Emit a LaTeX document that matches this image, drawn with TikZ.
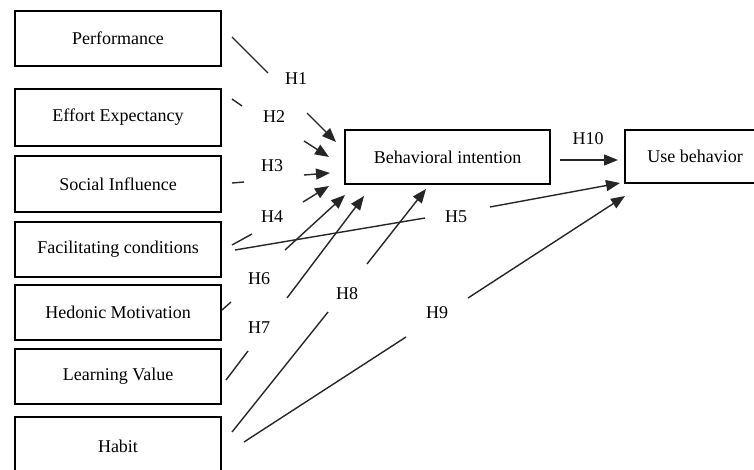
\documentclass[tikz,border=0pt]{standalone}
\usepackage{fontspec}
\setmainfont{Liberation Serif}
\usetikzlibrary{arrows.meta}
\begin{document}
\begin{tikzpicture}[x=1pt,y=-1pt,
  box/.style={draw,line width=2.2pt,minimum width=206pt,inner sep=0pt,font=\fontsize{18}{21}\selectfont},
  hlab/.style={font=\fontsize{18}{21}\selectfont,inner sep=0pt},
  link/.style={line width=1.4pt,draw=black!85},
  arr/.style={line width=1.4pt,draw=black!85,-{Triangle[length=14pt,width=11pt]}}]
\useasboundingbox (0,0) rectangle (754,470);
% boxes
\node[box,minimum height=55pt] (perf)  at (118,38.5)  {Performance};
\node[box,minimum height=57pt] (eff)   at (118,117.5) {Effort Expectancy};
\node[box,minimum height=56pt] (soc)   at (118,184)   {Social Influence};
\node[box,minimum height=55pt] (fac)   at (118,249.5) {Facilitating conditions};
\node[box,minimum height=55pt] (hed)   at (118,312.5) {Hedonic Motivation};
\node[box,minimum height=55pt] (learn) at (118,376.5) {Learning Value};
\node[box,minimum height=58pt] (habit) at (118,446)   {Habit};
\node[box,minimum width=205pt,minimum height=54pt] (bi) at (447.5,157) {Behavioral intention};
\node[box,minimum width=140pt,minimum height=53pt] (ub) at (695,156.5) {Use behavior};
% labels
\node[hlab] (h1)  at (296,79)  {H1};
\node[hlab] (h2)  at (274,117) {H2};
\node[hlab] (h3)  at (272,166) {H3};
\node[hlab] (h4)  at (272,217) {H4};
\node[hlab] (h5)  at (456,217) {H5};
\node[hlab] (h6)  at (259,279) {H6};
\node[hlab] (h7)  at (259,328) {H7};
\node[hlab] (h8)  at (347,294) {H8};
\node[hlab] (h9)  at (437,313) {H9};
\node[hlab] (h10) at (588,139) {H10};
% segment end points
\coordinate (a1) at (232,37);  \coordinate (b1) at (268,73);
\coordinate (c1) at (307,113); \coordinate (d1) at (336,142);
\coordinate (a2) at (232,99);  \coordinate (b2) at (242,106);
\coordinate (c2) at (304,141); \coordinate (d2) at (329,157);
\coordinate (a3) at (232,183); \coordinate (b3) at (244,182);
\coordinate (c3) at (304,175); \coordinate (d3) at (330,173);
\coordinate (a4) at (232,245); \coordinate (b4) at (252,234);
\coordinate (c4) at (303,202); \coordinate (d4) at (329,186);
\coordinate (a5) at (235,250); \coordinate (b5) at (425,218);
\coordinate (c5) at (490,207); \coordinate (d5) at (620,183);
\coordinate (a6) at (222,310); \coordinate (b6) at (231,302);
\coordinate (c6) at (285,250); \coordinate (d6) at (345,195);
\coordinate (a7) at (226,380); \coordinate (b7) at (248,351);
\coordinate (c7) at (287,298); \coordinate (d7) at (364,196);
\coordinate (a8) at (232,432); \coordinate (b8) at (328,312);
\coordinate (c8) at (367,264); \coordinate (d8) at (426,189);
\coordinate (a9) at (244,442); \coordinate (b9) at (406,337);
\coordinate (c9) at (468,298); \coordinate (d9) at (625,196);
\coordinate (c10) at (560,160); \coordinate (d10) at (618,160);
% connectors
\foreach \i in {1,...,9} {
  \draw[link] (a\i) -- (b\i);
  \draw[arr] (c\i) -- (d\i);
}
\draw[arr] (c10) -- (d10);
\end{tikzpicture}
\end{document}
